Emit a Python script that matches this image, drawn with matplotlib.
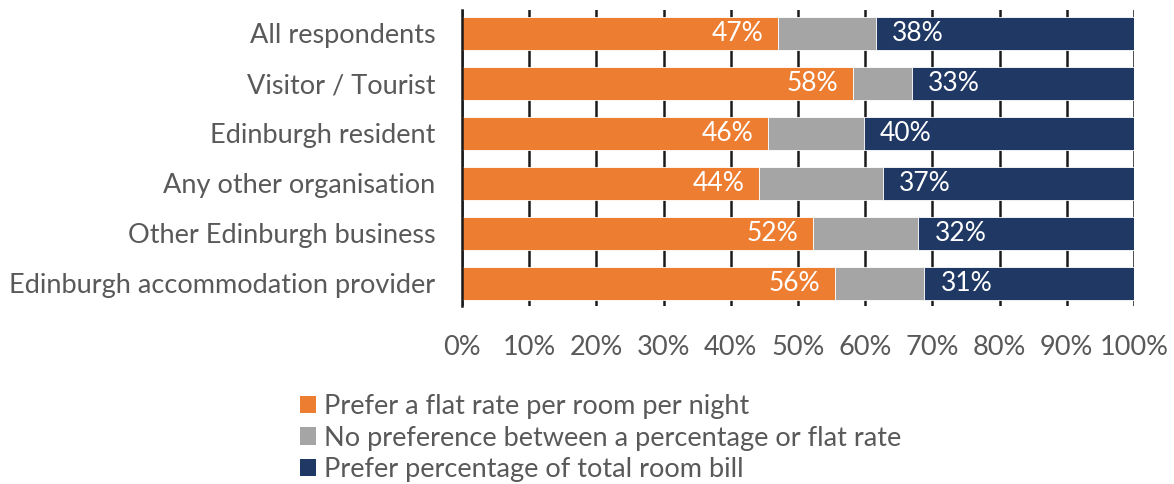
import numpy as np
import matplotlib
matplotlib.use("Agg")
import matplotlib.pyplot as plt
from matplotlib.patches import Patch

plt.rcParams['font.family'] = ['Lato', 'DejaVu Sans']

categories = ["All respondents", "Visitor / Tourist", "Edinburgh resident",
              "Any other organisation", "Other Edinburgh business",
              "Edinburgh accommodation provider"]
flat_rate = [47.0, 58.2, 45.6, 44.2, 52.2, 55.5]
percentage = [38.4, 33.0, 40.2, 37.4, 32.1, 31.2]
no_pref = [100 - a - b for a, b in zip(flat_rate, percentage)]
series_names = ["Prefer a flat rate per room per night",
                "No preference between a percentage or flat rate",
                "Prefer percentage of total room bill"]
colors = ["#ED7D31", "#A5A5A5", "#1F3864"]
text_grey = "#595959"
fs = 19.5

fig = plt.figure(figsize=(11.74, 4.84), dpi=100)
ax = fig.add_axes([462 / 1174, 1 - 306 / 484, 672 / 1174, 296 / 484])

y = np.arange(len(categories))
h = 0.66
ax.barh(y, flat_rate, h, color=colors[0], edgecolor="white", linewidth=0.6, zorder=3)
ax.barh(y, no_pref, h, left=flat_rate, color=colors[1], edgecolor="white", linewidth=0.6, zorder=3)
left3 = [a + b for a, b in zip(flat_rate, no_pref)]
ax.barh(y, percentage, h, left=left3, color=colors[2], edgecolor="white", linewidth=0.6, zorder=3)

# value labels: inside the orange and navy segments
for i in range(len(categories)):
    ax.text(flat_rate[i] - 2.2, y[i], f"{round(flat_rate[i])}%", color="white",
            ha="right", va="center", fontsize=19, zorder=4)
    ax.text(left3[i] + 2.4, y[i], f"{round(percentage[i])}%", color="white",
            ha="left", va="center", fontsize=19, zorder=4)

ax.set_xlim(0, 100)
ax.set_ylim(5.45, -0.47)
ax.set_yticks(y)
ax.set_yticklabels(categories, fontsize=fs, color=text_grey)
ax.set_xticks(np.arange(0, 101, 10))
ax.set_xticklabels([f"{v}%" for v in range(0, 101, 10)], fontsize=fs, color=text_grey)
ax.tick_params(axis="both", length=0)
ax.tick_params(axis="x", pad=21)
ax.tick_params(axis="y", pad=19)
ax.grid(axis="x", color="#1a1a1a", linewidth=1.8, zorder=0)
for side in ["top", "right", "bottom"]:
    ax.spines[side].set_visible(False)
ax.spines["left"].set_color("#1a1a1a")
ax.spines["left"].set_linewidth(1.8)
ax.spines["left"].set_zorder(5)

handles = [Patch(facecolor=c, edgecolor="none") for c in colors]
fig.legend(handles, series_names, loc="upper left", bbox_to_anchor=(289 / 1174, 1 - 383 / 484),
           frameon=False, fontsize=fs, labelcolor=text_grey, handlelength=0.6, handleheight=0.6,
           handletextpad=0.3, labelspacing=0.25, borderaxespad=0)

fig.savefig("out.png", dpi=100)
